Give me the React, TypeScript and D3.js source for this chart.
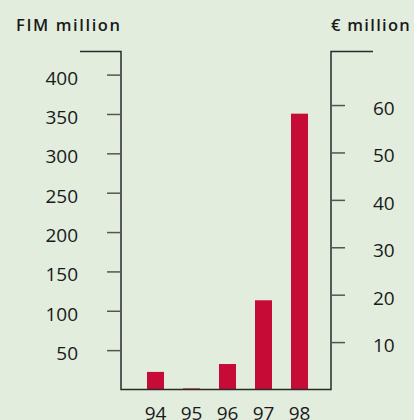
import React from 'react';
import * as d3 from 'd3';

// values (FIM million)
const years = ['94', '95', '96', '97', '98'];
const fimValues = [23, 2, 33, 114, 351];
const fimTicks = [50, 100, 150, 200, 250, 300, 350, 400];
const eurTicks = [10, 20, 30, 40, 50, 60];

const W = 414;
const H = 420;

const App = () => {
  // shared zero line, separate domains for the two axes
  const yFim = d3.scaleLinear().domain([0, 430]).range([390, 51.5]);
  const yEur = d3.scaleLinear().domain([0, 71.4]).range([390, 51.5]);

  const x = d3.scalePoint().domain(years).range([155.5, 299.5]);
  const barW = 17;

  const leftX = 121;
  const rightX = 331;
  const baseY = 389.5;
  const topY = 51.5;

  const font = '"Open Sans", "DejaVu Sans", sans-serif';

  return (
    <svg width={W} height={H} style={{ position: 'absolute', left: 0, top: 0, display: 'block' }}>
      <rect width={W} height={H} fill="#e2eddd" />

      {/* titles */}
      <text x={16} y={30.5} fontFamily={font} fontSize={16.5} fontWeight={600} letterSpacing={1.6} fill="#1a1a1a">
        FIM million
      </text>
      <text x={331} y={30.5} fontFamily={font} fontSize={16.5} fontWeight={600} letterSpacing={1.3} fill="#1a1a1a">
        € million
      </text>

      {/* bars */}
      {fimValues.map((v, i) => (
        <rect
          key={years[i]}
          x={(x(years[i]) as number) - barW / 2}
          y={yFim(v)}
          width={barW}
          height={baseY - yFim(v)}
          fill="#c60c36"
        />
      ))}

      {/* axes frame */}
      <path d={`M80,${topY}H${leftX}V${baseY}H${rightX}V${topY}H373`} fill="none" stroke="#2a2a2a" strokeWidth={1.5} />
      {fimTicks.map(t => (
        <g key={'l' + t}>
          <line x1={107} x2={leftX} y1={yFim(t)} y2={yFim(t)} stroke="#555" strokeWidth={1.5} />
          <text x={78} y={yFim(t) + 9.5} textAnchor="end" fontFamily={font} fontSize={19} fill="#1a1a1a">
            {t}
          </text>
        </g>
      ))}

      {/* right axis */}
      {eurTicks.map(t => (
        <g key={'r' + t}>
          <line x1={rightX} x2={345} y1={yEur(t)} y2={yEur(t)} stroke="#555" strokeWidth={1.5} />
          <text x={373} y={yEur(t) + 9.5} fontFamily={font} fontSize={19} fill="#1a1a1a">
            {t}
          </text>
        </g>
      ))}

      {/* year labels */}
      {years.map(yr => (
        <text key={yr} x={x(yr)} y={420} textAnchor="middle" fontFamily={font} fontSize={19} fill="#1a1a1a">
          {yr}
        </text>
      ))}
    </svg>
  );
};

export default App;
